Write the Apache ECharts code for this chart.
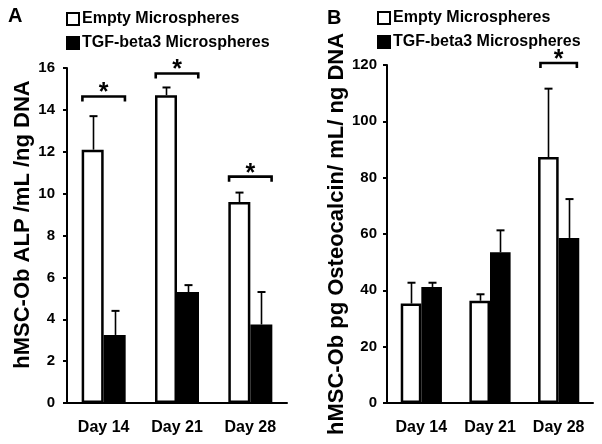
<!DOCTYPE html>
<html><head><meta charset="utf-8">
<script src="https://cdn.jsdelivr.net/npm/echarts@6/dist/echarts.min.js"></script>
<style>html,body{margin:0;padding:0;background:#fff}#c{width:602px;height:444px}</style>
</head><body><div id="c"></div>
<script>
const categories = ['Day 14', 'Day 21', 'Day 28'];
const seriesNames = ['Empty Microspheres', 'TGF-beta3 Microspheres'];
// Panel A: ALP
const alpEmpty = [12.1, 14.7, 9.6];
const alpEmptySD = [1.6, 0.37, 0.45];
const alpTGF = [3.25, 5.3, 3.75];
const alpTGFSD = [1.15, 0.33, 1.55];
const alpTicks = [0, 2, 4, 6, 8, 10, 12, 14, 16];
const sigACats = [0, 1, 2];
const sigALevels = [14.64, 15.74, 10.81];
// Panel B: Osteocalcin
const ocEmpty = [35.3, 36.3, 87.3];
const ocEmptySD = [7.4, 2.3, 24.3];
const ocTGF = [41.2, 53.5, 58.6];
const ocTGFSD = [1.5, 7.8, 13.8];
const ocTicks = [0, 20, 40, 60, 80, 100, 120];
const sigBCats = [2];
const sigBLevels = [120.7];

const FONT = 'Liberation Sans, Arial, sans-serif';
const chart = echarts.init(document.getElementById('c'), null, {renderer: 'canvas'});

function errData(vals, sds) { return vals.map((v, i) => [i, v, v + sds[i]]); }
function errSeries(ai, vals, sds, side) {
  return {
    type: 'custom', xAxisIndex: ai, yAxisIndex: ai, z: 5, clip: false,
    data: errData(vals, sds),
    renderItem: function (params, api) {
      const c = api.value(0);
      const base = api.coord([c, api.value(1)]);
      const top = api.coord([c, api.value(2)]);
      const bw = api.size([1, 0])[0];
      const x = Math.round(base[0] + side * bw * 0.15) + 0.5;
      return {type: 'group', children: [
        {type: 'line', shape: {x1: x, y1: base[1], x2: x, y2: top[1]}, style: {stroke: '#000', lineWidth: 1.6}},
        {type: 'line', shape: {x1: x - 4, y1: top[1], x2: x + 4, y2: top[1]}, style: {stroke: '#000', lineWidth: 2}}
      ]};
    }
  };
}
function sigSeries(ai, cats, levels, frac) {
  return {
    type: 'custom', xAxisIndex: ai, yAxisIndex: ai, z: 6, clip: false,
    data: cats.map((c, i) => [c, levels[i]]),
    renderItem: function (params, api) {
      const p = api.coord([api.value(0), api.value(1)]);
      const bw = api.size([1, 0])[0];
      const h = bw * frac / 2;
      return {type: 'group', children: [
        {type: 'polyline', shape: {points: [[p[0] - h, p[1] + 5], [p[0] - h, p[1]], [p[0] + h, p[1]], [p[0] + h, p[1] + 5]]},
          style: {stroke: '#000', lineWidth: 2.6, fill: null}},
        {type: 'text', x: p[0], y: p[1] - 3, style: {text: '*', fontSize: 25, fontWeight: 'bold', fontFamily: FONT,
          fill: '#000', align: 'center', verticalAlign: 'middle'}}
      ]};
    }
  };
}
function barSeries(ai, name, vals, color) {
  return {
    type: 'bar', name: name, xAxisIndex: ai, yAxisIndex: ai, data: vals,
    barWidth: '30%', barGap: '0%',
    itemStyle: {color: color, borderColor: '#000', borderWidth: 2.5}
  };
}
const axisLabelStyle = {color: '#000', fontWeight: 'bold', fontSize: 15, fontFamily: FONT};
function xAxis(gi) {
  return {type: 'category', gridIndex: gi, data: categories,
    axisLine: {lineStyle: {color: '#000', width: 2}},
    axisTick: {length: 4, lineStyle: {color: '#000', width: 2}},
    axisLabel: Object.assign({}, axisLabelStyle, {margin: 17, fontSize: 16})};
}
function yAxis(gi, ticks, name, gap, margin, pad) {
  return {type: 'value', gridIndex: gi, min: ticks[0], max: ticks[ticks.length - 1], interval: ticks[1] - ticks[0],
    splitLine: {show: false},
    axisLine: {show: true, lineStyle: {color: '#000', width: 2}},
    axisTick: {show: true, length: 4, lineStyle: {color: '#000', width: 2}},
    axisLabel: Object.assign({margin: margin}, axisLabelStyle),
    name: name, nameLocation: 'middle', nameGap: gap, nameRotate: 90,
    nameTextStyle: {color: '#000', fontWeight: 'bold', fontSize: 22, fontFamily: FONT, padding: pad}};
}
const legendBase = {orient: 'vertical', padding: 0, itemWidth: 12, itemHeight: 12, itemGap: 8,
  selectedMode: false, icon: 'rect',
  textStyle: {color: '#000', fontWeight: 'bold', fontSize: 16, fontFamily: FONT, padding: [0, 0, 0, -2]},
  data: seriesNames};

chart.setOption({
  animation: false,
  backgroundColor: '#fff',
  title: [
    {text: 'A', left: 8, top: 6, padding: 0, textStyle: {fontSize: 20, fontWeight: 'bold', color: '#000', fontFamily: FONT}},
    {text: 'B', left: 327, top: 8, padding: 0, textStyle: {fontSize: 20, fontWeight: 'bold', color: '#000', fontFamily: FONT}}
  ],
  legend: [
    Object.assign({left: 66, top: 11}, legendBase),
    Object.assign({left: 377, top: 10}, legendBase)
  ],
  grid: [
    {left: 67, right: 315, top: 68, bottom: 41},
    {left: 387, right: 9, top: 65, bottom: 41}
  ],
  xAxis: [xAxis(0), xAxis(1)],
  yAxis: [
    yAxis(0, alpTicks, 'hMSC-Ob ALP /mL /ng DNA', 33, 12, [0, 0, 0, 22]),
    yAxis(1, ocTicks, 'hMSC-Ob pg Osteocalcin/ mL/ ng DNA', 35, 10, [0, 0, 0, 0])
  ],
  series: [
    barSeries(0, seriesNames[0], alpEmpty, '#fff'),
    barSeries(0, seriesNames[1], alpTGF, '#000'),
    errSeries(0, alpEmpty, alpEmptySD, -1),
    errSeries(0, alpTGF, alpTGFSD, 1),
    sigSeries(0, sigACats, sigALevels, 0.58),
    barSeries(1, seriesNames[0], ocEmpty, '#fff'),
    barSeries(1, seriesNames[1], ocTGF, '#000'),
    errSeries(1, ocEmpty, ocEmptySD, -1),
    errSeries(1, ocTGF, ocTGFSD, 1),
    sigSeries(1, sigBCats, sigBLevels, 0.53)
  ]
});
</script></body></html>
